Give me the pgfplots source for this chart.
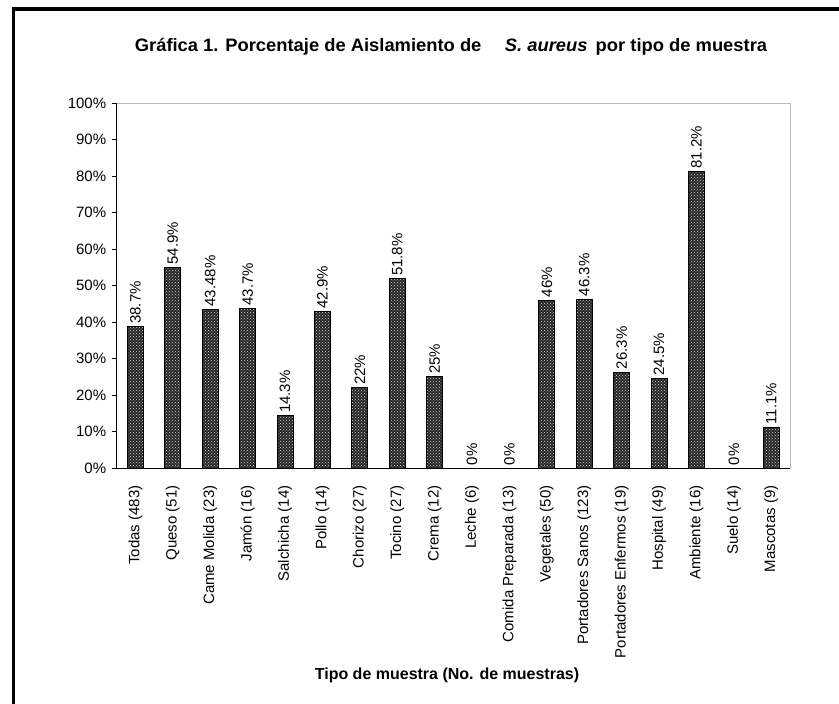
\documentclass[border=0pt]{standalone}
\usepackage{fontspec}
\setmainfont{Liberation Sans}
\usepackage{pgfplots}
\pgfplotsset{compat=1.18}
\usetikzlibrary{patterns}
\newcommand{\fs}{\fontsize{15}{17}\selectfont}
\newcommand{\fb}{\fontsize{16}{18}\selectfont\bfseries}
\begin{document}
\begin{tikzpicture}
\useasboundingbox (0pt,0pt) rectangle (839pt,-704pt);
\draw[line width=3.2pt] (13.5pt,-704pt) -- (13.5pt,-9pt) -- (839pt,-9pt);
\begin{axis}[
  at={(116.7pt,-468pt)}, anchor=south west,
  scale only axis, width=673.3pt, height=365pt,
  xmin=-0.5, xmax=17.5, ymin=0, ymax=100,
  axis lines*=left,
  axis line style={black, line width=0.9pt},
  tick align=outside,
  tick style={black, line width=0.9pt},
  major tick length=5pt, minor tick length=5pt,
  ytick={0,10,...,100},
  yticklabels={0\%,10\%,20\%,30\%,40\%,50\%,60\%,70\%,80\%,90\%,100\%},
  yticklabel style={font=\fs},
  yticklabel shift=2pt,
  xtick={0,...,17},
  x tick style={draw=none},
  minor xtick={-0.5,0.5,...,17.5},
  minor x tick style={black, line width=0.9pt},
  xticklabels={Todas (483),Queso (51),Came Molida (23),Jamón (16),Salchicha (14),Pollo (14),Chorizo (27),Tocino (27),Crema (12),Leche (6),Comida Preparada (13),Vegetales (50),Portadores Sanos (123),Portadores Enfermos (19),Hospital (49),Ambiente (16),Suelo (14),Mascotas (9)},
  xticklabel style={font=\fs, rotate=90, anchor=east},
  xticklabel shift=9pt,
  ybar, bar width=16pt,
  nodes near coords,
  point meta=explicit symbolic,
  every node near coord/.append style={font=\fs, rotate=90, anchor=west, inner sep=2.5pt, black},
  clip=false,
]
\addplot[draw=black, line width=0.9pt, fill=black!85,
  postaction={pattern=crosshatch dots, pattern color=black!18}]
  coordinates {
  (0,38.7) [38.7\%]
  (1,54.9) [54.9\%]
  (2,43.48) [43.48\%]
  (3,43.7) [43.7\%]
  (4,14.3) [14.3\%]
  (5,42.9) [42.9\%]
  (6,22) [22\%]
  (7,51.8) [51.8\%]
  (8,25) [25\%]
  (9,0) [0\%]
  (10,0) [0\%]
  (11,46) [46\%]
  (12,46.3) [46.3\%]
  (13,26.3) [26.3\%]
  (14,24.5) [24.5\%]
  (15,81.2) [81.2\%]
  (16,0) [0\%]
  (17,11.1) [11.1\%]
  };
\draw[gray!55, line width=0.9pt] (rel axis cs:0,1) -- (rel axis cs:1,1) -- (rel axis cs:1,0);
\end{axis}
\node[font=\fontsize{18}{20}\selectfont\bfseries] at (451pt,-47pt) {\scalebox{1.02}[1]{Gráfica 1. Porcentaje de Aislamiento de \quad\textit{S. aureus}\, por tipo de muestra}};
\node[font=\fb] at (447pt,-675pt) {Tipo de muestra (No. de muestras)};
\end{tikzpicture}
\end{document}
